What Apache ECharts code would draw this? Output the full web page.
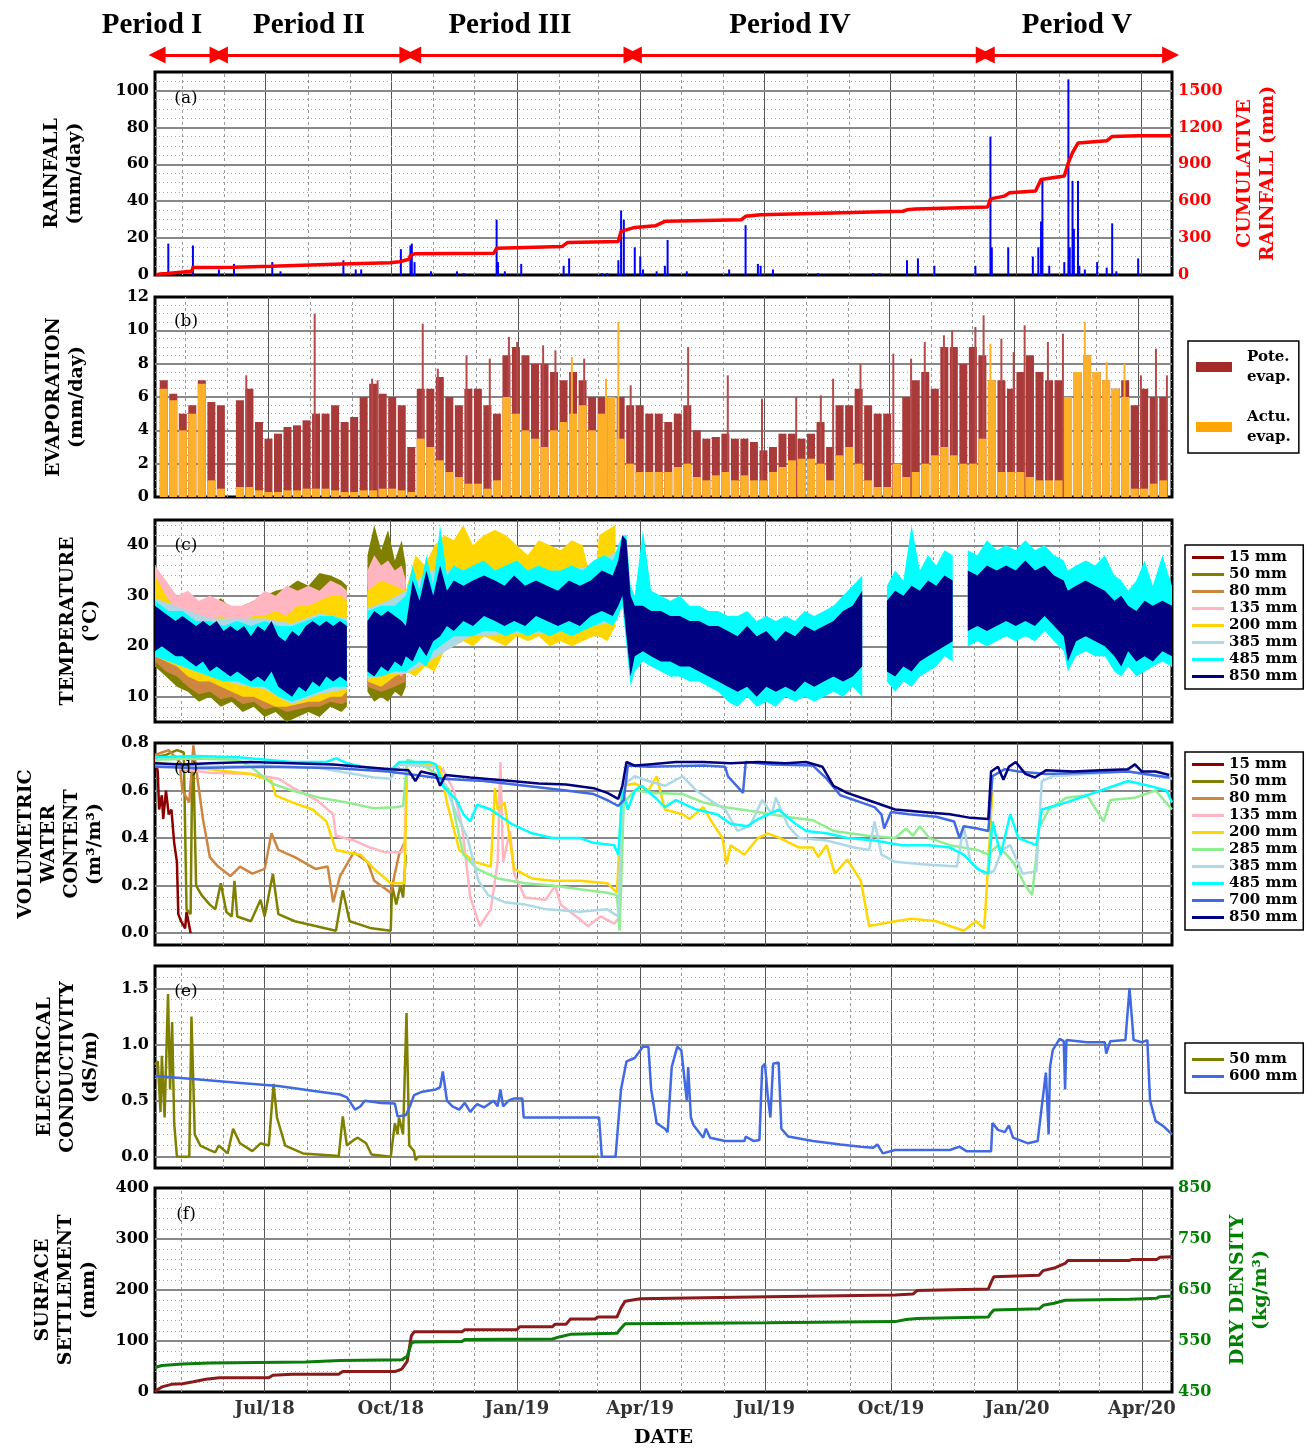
<!DOCTYPE html>
<html lang="en">
<head>
<meta charset="UTF-8">
<title>Field monitoring 2018-2020</title>
<script src="https://cdn.jsdelivr.net/npm/echarts@6/dist/echarts.min.js"></script>
<style>
    html, body { margin: 0; padding: 0; background: #fff; }
    #main { width: 1308px; height: 1449px; }
</style>
</head>
<body>
<div id="main"></div>
<script>
// ---------- time base: values below are [day since 2018-04-12, value] ----------
var DAY = 86400000;
var t0 = Date.UTC(2018, 3, 12);
var tEnd = Date.UTC(2020, 3, 23);
function day(d) { return t0 + d * DAY; }

// ---------- data ----------
var periodNames = ['Period I', 'Period II', 'Period III', 'Period IV', 'Period V'];
var periodSpans = [[1.5, 46], [47, 184.5], [188, 348], [349, 605], [606.5, 741]];

var quarterTicks = ['2018-07-01', '2018-10-01', '2019-01-01', '2019-04-01', '2019-07-01', '2019-10-01', '2020-01-01', '2020-04-01'];
var quarterLabels = ['Jul/18', 'Oct/18', 'Jan/19', 'Apr/19', 'Jul/19', 'Oct/19', 'Jan/20', 'Apr/20'];

// (a) rainfall
var rainDaily = [[9,17],[27,16],[46,3],[57,6],[85,7],[91,2],[137,8],[146,3],[150,3],[179,14],[186,16],[187,17],[189,7],[201,2],[220,2],[225,1],[249,30],[250,7],[255,2],[267,6],[298,5],[302,9],[326,1],[330,1],[338,8],[340,35],[342,30],[350,15],[354,10],[356,3],[366,2],[372,5],[374,19],[388,2],[419,3],[431,27],[440,6],[442,5],[451,3],[484,1],[524,1],[529,1],[549,8],[557,9],[569,5],[599,5],[610,75],[611,15],[623,15],[641,10],[645,15],[647,29],[648,51],[653,5],[664,7],[667,106],[668,15],[670,51],[671,25],[674,51],[675,5],[679,3],[688,7],[695,4],[699,28],[702,2],[718,9]];
var rainCum = [[0,0],[3,8],[8,12],[9,27],[26,30],[27,60],[56,63],[57,68],[84,72],[85,82],[136,90],[137,95],[171,100],[172,104],[178,108],[179,123],[185,128],[186,160],[189,172],[247,177],[249,218],[297,232],[298,237],[301,265],[338,273],[340,355],[350,387],[365,400],[372,436],[428,450],[431,477],[442,490],[546,518],[549,530],[555,537],[608,553],[610,619],[620,641],[624,668],[643,682],[647,777],[664,805],[667,914],[670,995],[674,1072],[695,1091],[699,1126],[718,1132],[742,1132]];

// (b) evaporation, weekly values (week k centred on day 7k+3.5)
var potEvap = [7.0,6.2,5.0,5.5,7.0,5.7,5.5,0,5.8,6.5,
    4.5,3.5,3.8,4.2,4.3,4.6,5.0,5.0,5.5,4.5,
    4.8,6.0,6.8,6.2,6.0,5.5,3.0,6.5,6.5,7.2,
    6.0,5.5,6.5,6.5,5.5,5.0,8.5,9.0,8.5,8.0,
    8.0,7.5,7.0,7.5,7.0,6.0,6.0,6.0,6.0,5.5,
    5.5,5.0,5.0,4.5,5.0,5.5,4.0,3.5,3.6,3.8,
    3.5,3.5,3.3,2.8,3.0,3.8,3.8,3.5,3.8,4.5,
    3.0,5.5,5.5,6.5,5.5,5.0,5.0,2.0,6.0,7.0,
    7.5,6.5,9.0,9.0,8.0,9.0,8.5,7.0,7.0,6.5,
    7.5,8.5,7.5,7.0,7.0,6.0,7.5,8.5,7.5,7.0,
    6.5,7.0,5.5,6.5,6.0,6.0];
var actEvap = [6.5,5.8,4.0,5.0,6.8,1.0,0.5,0,0.6,0.6,
    0.4,0.3,0.3,0.4,0.4,0.5,0.5,0.5,0.4,0.3,
    0.3,0.4,0.4,0.5,0.5,0.4,0.3,3.5,3.0,2.2,
    1.5,1.2,0.8,0.8,0.5,1.0,6.0,5.0,4.0,3.5,
    3.0,4.0,4.5,5.0,5.5,4.0,5.0,6.0,3.5,2.0,
    1.5,1.5,1.5,1.5,1.8,2.0,1.2,1.0,1.3,1.5,
    1.0,1.3,1.0,1.0,1.5,1.8,2.2,2.3,2.3,2.0,
    1.0,2.5,3.0,2.0,1.0,0.6,0.6,2.0,1.2,1.5,
    2.0,2.5,3.0,2.5,2.0,2.0,3.5,7.0,1.5,1.5,
    1.5,1.2,1.0,1.0,1.0,6.0,7.5,8.5,7.5,7.0,
    6.5,6.0,0.5,0.5,0.8,1.0];
// single days that stand above the weekly level
var potSpikes = [[66,7.3],[116,11.0],[158,7.1],[162,7.0],[195,10.4],[206,7.7],[227,8.5],[244,8.3],[258,9.6],[264,9.3],[283,9.1],[292,8.8],[313,8.3],[347,6.7],[389,9.0],[418,7.3],[443,5.9],[468,6.0],[486,6.1],[495,7.1],[515,8.0],[539,8.6],[552,8.3],[562,9.3],[576,9.7],[582,10.0],[599,10.2],[605,10.9],[618,9.5],[627,8.7],[635,10.3],[652,9.3],[663,9.8],[720,7.3],[731,8.9],[739,7.3]];
var actSpikes = [[304,8.4],[329,7.1],[338,10.5],[610,9.2],[679,10.5],[695,8.1],[708,8.0]];

// (c) temperature bands: [day, low, high]
var temp15 = [[0,17,28],[20,14,26],[40,12,25],[60,10,25],[80,9,26],[100,8,27],[120,9,28],[140,10,28],[147,null,null],[155,13,32],[170,12,33],[183,14,32]];
var temp50 = [[0,16,30],[8,14,29],[16,12,27],[24,11,28],[32,9,27],[40,10,28],[48,8,29.5],[56,9,27.5],[64,7,28],[72,8,29],[80,6,30],[88,7,31],[96,5,31.5],[104,6,33],[112,7,32],[120,6,34.5],[128,8,34],[136,7,33],[140,8,32],[147,null,null],[155,11,38],[160,9,44],[165,10,39],[170,9,43],[175,11,37],[180,10,41],[183,12,36]];
var temp80 = [[0,17,27],[8,15,26],[16,14,25],[24,12,25],[32,10.5,25],[40,11,25],[48,9.5,25],[56,10,24],[64,8.5,24],[72,9,25],[80,7.5,25],[88,8,26],[96,7,26],[104,7.5,27],[112,8,27],[120,8,28],[128,9,28],[136,8.5,28],[140,9,27],[147,null,null],[155,12,30],[165,11,31],[175,12,31],[183,13,30]];
var temp135 = [[0,19,36],[8,18,33],[16,17,30],[24,16,31],[32,15,29],[40,15,30],[48,14,29],[56,14,28],[64,13,28],[72,13,29],[80,12,31],[88,12,30],[96,11,32],[104,11,31],[112,12,32],[120,12,31],[128,13,33],[136,12,32],[140,13,31],[147,null,null],[155,14,35],[160,13,38],[165,14,36],[170,13,37],[175,15,35],[180,14,36],[183,16,33]];
var temp200 = [[0,18,34],[8,17,30],[16,16,27],[24,14,26],[32,13,26],[40,13,25],[48,12,26],[56,11,25],[64,10,25],[72,10,26],[80,9,26],[88,8,27],[96,8,26],[104,8.5,28],[112,9,28],[120,9,29],[128,10,30],[136,10,30],[140,11,29],[147,null,null],[155,13,31],[165,12,33],[175,14,32],[183,15,31],[190,14,38],[197,16,36],[204,15,40],[211,19,42],[218,20,41],[225,21,44],[232,20,40],[240,22,42],[248,21,43],[256,20,42],[264,22,40],[272,21,38],[280,22,41],[288,20,40],[296,21,39],[304,20,41],[312,21,40],[320,22,31],[324,22,42],[330,21,43],[336,24,44],[339,null,null]];
var temp385 = [[0,18,29.5],[20,16,27.5],[40,14,25.5],[60,12.5,25.5],[80,11.5,25.5],[100,8.5,24.5],[120,10.5,26.5],[140,11.5,25.5],[147,null,null],[155,13.5,27.5],[170,14.5,29],[183,14.5,31],[200,17,35],[230,22,35],[260,22.5,35],[290,22.5,34.5],[320,24,36],[338,25,39],[340,null,null]];
var temp485 = [[0,18,29],[10,17,27],[20,16,27],[30,15,25],[40,14,25],[50,13,24],[60,13,25],[70,12,24],[80,12,25],[90,10,24],[100,9,24],[110,10,25],[120,11,26],[130,12,26],[140,12,25],[147,null,null],[155,14,27],[165,14,28],[175,15,28],[183,15,30],[188,16,36],[193,17,31],[198,16,38],[203,19,32],[208,20,44],[213,21,34],[218,22,36],[225,22,35],[232,22,36],[240,23,37],[248,23,35],[256,22,36],[264,23,37],[272,22,35],[280,23,36],[288,22,35],[296,23,35],[304,22,36],[312,23,35],[320,24,37],[328,25,38],[334,24,37],[338,26,40],[341,28,42],[344,20,42],[347,12,32],[350,15,30],[356,17,43],[362,16,31],[369,15,30],[376,14,29],[383,14,30],[390,13,28],[397,13,28],[404,12,27],[411,11,27],[418,9,26],[425,8,26],[432,10,27],[439,8,25],[446,9,26],[453,8,25],[460,10,26],[467,9,25],[474,10,27],[481,9,26],[488,10,27],[495,11,28],[502,10,30],[509,12,32],[516,10,34],[518,null,null],[534,13,32],[540,11,35],[546,13,33],[552,12,44],[558,14,35],[564,15,38],[570,16,36],[576,18,39],[582,17,38],[585,null,null],[593,20,39],[600,21,38],[607,20,41],[614,21,39],[621,22,40],[628,21,39],[635,22,41],[642,21,39],[649,23,40],[656,21,38],[663,19,37],[666,15,35],[672,18,36],[679,19,37],[686,18,36],[693,18,38],[700,15,34],[705,14,33],[710,16,31],[716,14,33],[722,15,37],[728,16,32],[735,17,38],[742,16,32]];
var temp850 = [[0,19,28],[5,20,27],[10,19,26],[15,18,25],[20,18,26],[25,17,25],[30,16,24],[35,17,25],[40,15,24],[45,16,25],[50,15,23],[55,14,24],[60,15,23],[65,14,24],[70,13,22],[75,14,24],[80,13,23],[85,15,25],[90,12,22],[95,11,21],[100,10,23],[105,12,22],[110,11,24],[115,13,25],[120,12,24],[125,14,25],[130,13,24],[135,14,25],[140,13,24],[147,null,null],[155,15,25],[160,14,27],[165,16,26],[170,15,27],[175,17,26],[180,16,25],[183,18,24],[188,17,33],[193,20,29],[198,18,35],[203,21,30],[208,22,36],[213,24,31],[218,23,33],[225,25,32],[232,24,33],[240,26,34],[248,25,33],[255,24,32],[262,25,34],[270,24,32],[278,26,33],[286,25,32],[294,24,31],[302,25,33],[310,24,32],[318,26,33],[326,27,35],[334,26,34],[338,28,37],[341,30,42],[344,22,41],[347,14,30],[350,18,28],[356,19,28],[362,18,27],[369,17,27],[376,17,26],[383,16,26],[390,16,25],[397,15,25],[404,14,24],[411,13,24],[418,12,23],[425,11,22],[432,12,24],[439,10,22],[446,12,23],[453,11,21],[460,12,23],[467,11,22],[474,13,24],[481,12,23],[488,13,24],[495,14,25],[502,13,27],[509,14,28],[516,16,31],[518,null,null],[534,15,29],[540,14,31],[546,16,30],[552,15,32],[558,17,31],[564,18,33],[570,19,32],[576,20,34],[582,21,33],[585,null,null],[593,23,35],[600,24,34],[607,23,36],[614,24,35],[621,25,36],[628,24,35],[635,25,37],[642,24,35],[649,26,36],[656,24,34],[663,22,33],[666,17,31],[672,21,32],[679,22,33],[686,21,32],[693,20,31],[700,18,29],[705,16,30],[710,19,28],[716,17,27],[722,18,29],[728,17,28],[735,19,29],[742,18,28]];

// (d) volumetric water content
var vwc15 = [[0,0.74],[2,0.68],[3,0.52],[5,0.58],[6,0.48],[8,0.60],[10,0.50],[12,0.52],[14,0.38],[16,0.30],[17,0.08],[19,0.05],[22,0.02],[23,0.09],[25,0.03],[26,0.0]];
var vwc50 = [[0,0.74],[8,0.75],[16,0.77],[21,0.76],[23,0.10],[26,0.08],[27,0.62],[28,0.72],[30,0.20],[34,0.16],[40,0.12],[44,0.10],[48,0.21],[52,0.09],[56,0.07],[58,0.22],[60,0.07],[70,0.05],[77,0.14],[80,0.07],[86,0.25],[90,0.08],[102,0.05],[117,0.03],[132,0.01],[137,0.18],[142,0.05],[158,0.02],[172,0.01],[173,0.20],[176,0.12],[179,0.20],[181,0.15],[183,0.33]];
var vwc80 = [[0,0.75],[5,0.76],[10,0.77],[18,0.72],[20,0.60],[25,0.55],[28,0.79],[31,0.65],[35,0.48],[40,0.32],[46,0.28],[55,0.24],[62,0.28],[71,0.25],[80,0.27],[85,0.42],[90,0.35],[102,0.32],[117,0.27],[126,0.28],[130,0.13],[135,0.24],[145,0.34],[155,0.30],[160,0.22],[172,0.17],[178,0.33],[182,0.38]];
var vwc135 = [[0,0.72],[20,0.69],[40,0.675],[70,0.67],[90,0.65],[101,0.61],[118,0.56],[130,0.50],[132,0.41],[145,0.39],[157,0.36],[168,0.34],[180,0.34],[182,0.37],[184,0.72],[200,0.70],[210,0.69],[218,0.60],[224,0.45],[230,0.15],[237,0.03],[245,0.10],[250,0.30],[252,0.72],[254,0.30],[259,0.43],[262,0.25],[270,0.15],[285,0.14],[292,0.20],[296,0.12],[305,0.08],[316,0.03],[325,0.07],[335,0.04],[338,0.06]];
var vwc200 = [[0,0.72],[20,0.70],[40,0.69],[70,0.67],[85,0.64],[88,0.58],[100,0.55],[115,0.52],[125,0.47],[132,0.35],[140,0.34],[150,0.33],[160,0.27],[172,0.21],[182,0.21],[184,0.72],[200,0.71],[208,0.70],[213,0.55],[222,0.35],[233,0.30],[245,0.28],[248,0.61],[250,0.52],[255,0.55],[262,0.27],[275,0.23],[290,0.22],[310,0.22],[330,0.21],[337,0.17],[341,0.62],[350,0.63],[360,0.60],[366,0.66],[372,0.52],[385,0.50],[390,0.48],[400,0.53],[406,0.47],[414,0.40],[417,0.29],[420,0.37],[430,0.33],[440,0.40],[447,0.42],[456,0.40],[470,0.36],[480,0.36],[484,0.32],[490,0.37],[496,0.25],[505,0.31],[515,0.22],[521,0.03],[540,0.05],[552,0.06],[570,0.05],[590,0.01],[599,0.05],[605,0.02],[608,0.30],[611,0.60]];
var vwc285 = [[0,0.73],[30,0.735],[60,0.73],[70,0.70],[85,0.63],[100,0.60],[120,0.57],[140,0.55],[160,0.525],[175,0.53],[181,0.535],[184,0.73],[195,0.71],[205,0.67],[215,0.60],[220,0.46],[225,0.33],[235,0.27],[250,0.23],[270,0.21],[290,0.20],[310,0.185],[330,0.17],[337,0.16],[339,0.01],[342,0.55],[350,0.60],[365,0.59],[385,0.585],[400,0.55],[416,0.53],[440,0.51],[460,0.49],[480,0.475],[495,0.43],[520,0.41],[540,0.40],[548,0.44],[553,0.41],[558,0.45],[565,0.40],[580,0.37],[600,0.35],[608,0.33],[615,0.37],[626,0.30],[635,0.20],[640,0.16],[645,0.44],[652,0.52],[665,0.57],[680,0.58],[692,0.47],[697,0.56],[715,0.57],[730,0.60],[742,0.52]];
var vwc385 = [[0,0.71],[40,0.70],[80,0.705],[120,0.695],[140,0.675],[160,0.655],[172,0.65],[178,0.71],[205,0.70],[212,0.62],[220,0.50],[228,0.40],[236,0.22],[243,0.16],[255,0.13],[270,0.12],[286,0.10],[310,0.09],[330,0.10],[338,0.07],[341,0.62],[350,0.66],[360,0.64],[372,0.62],[385,0.66],[395,0.60],[405,0.56],[416,0.52],[425,0.43],[434,0.45],[443,0.56],[450,0.50],[453,0.57],[462,0.45],[470,0.40],[490,0.39],[510,0.36],[521,0.35],[525,0.47],[530,0.33],[540,0.30],[560,0.29],[585,0.28],[590,0.45],[595,0.30],[605,0.25],[612,0.26],[618,0.35],[624,0.37],[633,0.25],[643,0.26],[647,0.64],[655,0.66],[680,0.67],[710,0.68],[742,0.65]];
var vwc485 = [[0,0.74],[30,0.745],[60,0.74],[100,0.72],[125,0.72],[132,0.735],[140,0.715],[160,0.69],[172,0.685],[178,0.72],[200,0.72],[205,0.71],[210,0.62],[220,0.56],[225,0.50],[230,0.47],[235,0.54],[245,0.52],[260,0.46],[275,0.42],[290,0.40],[310,0.40],[320,0.38],[335,0.37],[338,0.33],[341,0.60],[345,0.52],[350,0.60],[355,0.62],[365,0.57],[372,0.53],[380,0.56],[395,0.52],[410,0.50],[420,0.46],[432,0.45],[440,0.48],[455,0.52],[465,0.47],[475,0.43],[490,0.42],[505,0.40],[525,0.39],[545,0.37],[565,0.37],[580,0.36],[590,0.33],[600,0.27],[608,0.25],[611,0.47],[617,0.33],[624,0.50],[630,0.40],[643,0.37],[647,0.52],[665,0.55],[690,0.60],[710,0.64],[725,0.62],[738,0.60],[742,0.55]];
var vwc700 = [[0,0.70],[30,0.695],[80,0.70],[130,0.695],[170,0.68],[190,0.665],[210,0.65],[240,0.64],[270,0.62],[300,0.60],[320,0.585],[330,0.56],[338,0.535],[342,0.56],[345,0.705],[360,0.70],[400,0.705],[416,0.70],[418,0.66],[429,0.59],[431,0.72],[450,0.71],[480,0.705],[490,0.65],[500,0.58],[515,0.55],[525,0.53],[530,0.50],[532,0.44],[537,0.51],[550,0.50],[570,0.49],[583,0.47],[587,0.40],[590,0.45],[600,0.44],[608,0.43],[611,0.66],[620,0.69],[630,0.68],[650,0.67],[680,0.675],[710,0.68],[740,0.655]];
var vwc850 = [[0,0.715],[20,0.71],[40,0.715],[70,0.72],[100,0.715],[130,0.71],[150,0.70],[172,0.69],[185,0.685],[190,0.64],[194,0.68],[205,0.665],[208,0.62],[212,0.665],[230,0.655],[260,0.64],[280,0.63],[300,0.625],[320,0.61],[330,0.59],[338,0.565],[341,0.62],[344,0.72],[350,0.705],[360,0.71],[380,0.72],[400,0.72],[420,0.715],[440,0.72],[460,0.715],[475,0.72],[487,0.70],[495,0.62],[505,0.59],[520,0.56],[540,0.52],[560,0.51],[580,0.50],[595,0.485],[608,0.48],[610,0.68],[615,0.70],[619,0.645],[623,0.70],[628,0.72],[635,0.67],[642,0.655],[650,0.685],[670,0.68],[690,0.685],[710,0.69],[715,0.71],[720,0.68],[730,0.68],[740,0.665]];

// (e) electrical conductivity
var ec50 = [[0,0.82],[2,0.85],[4,0.40],[5,0.90],[7,0.35],[9.5,1.45],[11,0.60],[12.5,1.2],[14,0.30],[16,0.0],[25,0.0],[26.6,1.25],[29,0.20],[33,0.10],[40,0.06],[44,0.04],[46.5,0.10],[53,0.03],[57,0.25],[62,0.12],[71,0.05],[77,0.12],[83,0.10],[86.5,0.65],[89,0.35],[95,0.10],[108,0.03],[132,0.01],[134,0.0],[137,0.36],[140,0.10],[145,0.15],[148,0.17],[154,0.12],[158,0.02],[172,0.0],[175,0.30],[177,0.20],[178,0.35],[181,0.20],[183.5,1.28],[185.5,0.10],[189,0.05],[190,-0.03],[192,0.0],[324,0.0]];
var ec600 = [[0,0.72],[30,0.69],[60,0.66],[90,0.63],[120,0.58],[135,0.555],[140,0.53],[146,0.42],[150,0.45],[153,0.50],[165,0.48],[175,0.475],[177,0.36],[183,0.37],[186,0.45],[189,0.55],[195,0.58],[205,0.60],[208,0.62],[210,0.76],[213,0.50],[217,0.45],[222,0.42],[226,0.48],[230,0.40],[235,0.47],[240,0.44],[247,0.50],[250,0.45],[252,0.60],[254,0.45],[258,0.50],[262,0.52],[268,0.52],[269,0.35],[300,0.35],[324,0.35],[326,0.0],[336,0.0],[340,0.6],[344,0.85],[350,0.88],[356,0.98],[360,0.98],[362,0.6],[366,0.30],[372,0.25],[374,0.22],[377,0.8],[381,0.98],[384,0.95],[388,0.5],[389,0.8],[391,0.35],[393,0.28],[398,0.2],[400,0.17],[402,0.25],[405,0.17],[416,0.14],[430,0.14],[431,0.18],[437,0.14],[441,0.15],[443,0.8],[445,0.83],[447,0.55],[449,0.35],[451,0.83],[455,0.84],[457,0.25],[462,0.18],[480,0.14],[500,0.11],[515,0.09],[524,0.08],[527,0.11],[531,0.03],[540,0.06],[580,0.06],[587,0.09],[592,0.05],[610,0.05],[611,0.30],[615,0.24],[620,0.22],[623,0.28],[626,0.17],[637,0.12],[644,0.14],[647,0.45],[650,0.75],[652,0.2],[653,0.8],[655,0.95],[660,1.05],[663,1.03],[664,0.6],[665,1.04],[680,1.02],[693,1.02],[694,0.92],[697,1.03],[708,1.04],[711,1.5],[714,1.04],[720,1.02],[724,1.04],[726,0.5],[730,0.32],[736,0.27],[742,0.2]];

// (f) settlement (mm) and dry density (kg/m3)
var settlement = [[0,0],[2,5],[5,10],[12,15],[20,16],[28,20],[37,25],[47,28],[83,28],[86,33],[100,35],[134,35],[137,40],[175,40],[180,45],[184,60],[187,110],[189,118],[224,118],[226,122],[264,122],[266,128],[290,128],[292,133],[300,133],[303,143],[321,143],[323,147],[337,147],[340,165],[343,178],[354,183],[447,187],[540,190],[553,192],[556,199],[608,202],[610,215],[612,226],[645,229],[648,238],[656,243],[664,252],[666,258],[711,258],[713,260],[731,260],[733,264],[742,265]];
var dryDensity = [[0,498],[5,502],[20,505],[40,507],[110,509],[135,512],[180,513],[184,520],[187,545],[189,548],[224,549],[226,553],[290,554],[295,558],[303,563],[337,565],[340,575],[343,584],[447,586],[540,588],[548,592],[556,594],[608,597],[610,605],[612,611],[645,613],[648,620],[656,624],[664,630],[711,632],[731,634],[733,637],[742,638]];

// ---------- chart ----------
var chart = echarts.init(document.getElementById('main'));
var SERIF = 'DejaVu Serif';
var C = {
    d15: '#8b0000', d50: '#808000', d80: '#cd853f', d135: '#ffb6c1', d200: '#ffd700',
    d285: '#90ee90', d385: '#add8e6', d485: '#00ffff', d700: '#4169e1', d850: '#000080'
};

function pts(arr) {
    return arr.map(function (p) { return [day(p[0]), p[1]]; });
}

// label filter: show only multiples of "major" up to "lim"
function majorOnly(major, lim, digits) {
    return function (v) {
        var r = v / major;
        if (Math.abs(r - Math.round(r)) > 1e-6 || v > lim + 1e-9 || v < -1e-9) return '';
        return digits ? v.toFixed(digits) : String(Math.round(v));
    };
}

var quarterTs = quarterTicks.map(function (s) { return Date.parse(s + 'T00:00:00Z'); });

var grids = [{left: 155, width: 1017, top: 45, height: 20, show: false}];
[[72, 203], [297, 200], [520, 202], [743, 202], [966, 202], [1188, 204]].forEach(function (g) {
    grids.push({left: 155, width: 1017, top: g[0], height: g[1], show: true,
        borderColor: '#000', borderWidth: 3, backgroundColor: 'transparent'});
});
// row holding the date labels under the last panel
grids.push({left: 155, width: 1017, top: 1398, height: 24, show: false});

var xAxes = [];
for (var gi = 0; gi <= 7; gi++) {
    xAxes.push({type: 'time', gridIndex: gi, min: t0, max: tEnd,
        axisLine: {show: false}, axisTick: {show: false}, splitLine: {show: false}, axisLabel: {show: false}});
}
xAxes[7].name = 'DATE';
xAxes[7].nameLocation = 'middle';
xAxes[7].nameGap = 9;
xAxes[7].nameTextStyle = {fontFamily: SERIF, fontWeight: 'bold', fontSize: 19, color: '#000'};
// extra hidden axis (index 8) for the evaporation spikes
xAxes.push({type: 'time', gridIndex: 2, min: t0, max: tEnd, show: false});

function yAx(g, min, max, step, fmt, name, gap, pos, color) {
    return {type: 'value', gridIndex: g, min: min, max: max, interval: step, position: pos || 'left',
        axisLine: {show: false}, axisTick: {show: false}, splitLine: {show: false},
        axisLabel: {formatter: fmt, color: color || '#000', fontFamily: SERIF, fontWeight: 'bold', fontSize: 16, margin: 6},
        name: name, nameLocation: 'middle', nameRotate: 90, nameGap: gap,
        nameTextStyle: {fontFamily: SERIF, fontWeight: 'bold', fontSize: 19, lineHeight: 23, color: color || '#000', align: 'center'}};
}

var yAxes = [
    {type: 'value', gridIndex: 0, min: 0, max: 1, show: false},
    yAx(1, 0, 110, 10, majorOnly(20, 100), 'RAINFALL\n(mm/day)', 68),
    yAx(1, 0, 1650, 150, majorOnly(300, 1500), 'CUMULATIVE\nRAINFALL (mm)', 55, 'right', '#ff0000'),
    yAx(2, 0, 12, 2, majorOnly(2, 12), 'EVAPORATION\n(mm/day)', 66),
    yAx(3, 5, 45, 5, majorOnly(10, 40), 'TEMPERATURE\n(°C)', 52),
    yAx(4, -0.05, 0.8, 0.05, majorOnly(0.2, 0.8, 1), 'VOLUMETRIC\nWATER\nCONTENT\n(m³/m³)', 48),
    yAx(5, -0.1, 1.7, 0.1, majorOnly(0.5, 1.5, 1), 'ELECTRICAL\nCONDUCTIVITY\n(dS/m)', 52),
    yAx(6, 0, 400, 100, majorOnly(100, 400), 'SURFACE\nSETTLEMENT\n(mm)', 54),
    yAx(6, 450, 850, 100, function (v) { return String(v); }, 'DRY DENSITY\n(kg/m³)', 55, 'right', '#008000'),
    {type: 'value', gridIndex: 7, min: 0, max: 1, show: false}
];

// background grid lines for one panel
function gridSeries(xi, yi, yMin, yMax, major, minor) {
    var solidV = {color: '#555', width: 1, type: 'solid'};
    var dashV = {color: '#999', width: 1, type: [3, 3]};
    var solidH = {color: '#888', width: 2, type: 'solid'};
    var dotH = {color: '#aaa', width: 1, type: [1, 3]};
    var lines = [];
    for (var k = 0; k < 24; k++) {
        var yy = 2018 + Math.floor((4 + k) / 12), mm = (4 + k) % 12;
        lines.push({xAxis: Date.UTC(yy, mm, 1), lineStyle: mm % 3 === 0 ? solidV : dashV});
    }
    var n0 = Math.ceil(yMin / minor - 1e-9), n1 = Math.floor(yMax / minor + 1e-9);
    for (var n = n0; n <= n1; n++) {
        var v = +(n * minor).toFixed(6);
        if (v <= yMin + 1e-9 || v >= yMax - 1e-9) continue;
        var r = v / major;
        lines.push({yAxis: v, lineStyle: Math.abs(r - Math.round(r)) < 1e-6 ? solidH : dotH});
    }
    return {type: 'line', xAxisIndex: xi, yAxisIndex: yi, data: [], z: 1, silent: true,
        markLine: {silent: true, symbol: ['none', 'none'], label: {show: false}, animation: false, z: 1, data: lines}};
}

function bandSeries(name, arr, color) {
    var lo = [], span = [];
    arr.forEach(function (p) {
        var t = day(p[0]);
        lo.push([t, p[1]]);
        span.push([t, p[1] == null ? null : p[2] - p[1]]);
    });
    return [
        {type: 'line', name: 'low ' + name, xAxisIndex: 3, yAxisIndex: 4, stack: 'T' + name, data: lo,
            symbol: 'none', lineStyle: {opacity: 0}, silent: true, z: 2},
        {type: 'line', name: name, xAxisIndex: 3, yAxisIndex: 4, stack: 'T' + name, data: span,
            symbol: 'none', lineStyle: {opacity: 0}, itemStyle: {color: color},
            areaStyle: {color: color, opacity: 1}, silent: true, z: 2}
    ];
}

function lineSeries(name, arr, color, xi, yi, w) {
    return {type: 'line', name: name, xAxisIndex: xi, yAxisIndex: yi, data: pts(arr), symbol: 'none',
        lineStyle: {color: color, width: w}, itemStyle: {color: color}, silent: true, z: 3};
}

var series = [
    gridSeries(1, 1, 0, 110, 20, 5),
    gridSeries(2, 3, 0, 12, 2, 0.5),
    gridSeries(3, 4, 5, 45, 10, 2),
    gridSeries(4, 5, -0.05, 0.8, 0.2, 0.05),
    gridSeries(5, 6, -0.1, 1.7, 0.5, 0.1),
    gridSeries(6, 7, 0, 400, 100, 20),
    // period arrows
    {type: 'line', xAxisIndex: 0, yAxisIndex: 0, data: [], silent: true,
        markLine: {silent: true, symbol: ['triangle', 'triangle'], symbolSize: 17, label: {show: false}, animation: false,
            lineStyle: {color: '#ff0000', width: 3, type: 'solid'},
            data: periodSpans.map(function (s) { return [{coord: [day(s[0]), 0.5]}, {coord: [day(s[1]), 0.5]}]; })}},
    // date labels
    {type: 'scatter', xAxisIndex: 7, yAxisIndex: 9, symbolSize: 1, silent: true,
        itemStyle: {color: 'rgba(0,0,0,0)'},
        label: {show: true, position: 'inside', formatter: '{b}', color: '#000',
            fontFamily: SERIF, fontWeight: 'bold', fontSize: 18},
        data: quarterTs.map(function (t, i) { return {name: quarterLabels[i], value: [t, 0.5]}; })},
    // (a)
    {type: 'bar', name: 'Rainfall', xAxisIndex: 1, yAxisIndex: 1, data: pts(rainDaily), barWidth: 2,
        itemStyle: {color: '#0000ff'}, silent: true, z: 2},
    lineSeries('Cumulative rainfall', rainCum, '#ff0000', 1, 2, 3.5),
    // (b)
    {type: 'bar', name: 'Pote. evap.', xAxisIndex: 2, yAxisIndex: 3, barWidth: 8, barGap: '-100%',
        data: potEvap.map(function (v, k) { return [day(7 * k + 3.5), v]; }),
        itemStyle: {color: '#a93a3a'}, silent: true, z: 2},
    {type: 'bar', name: 'pot spikes', xAxisIndex: 8, yAxisIndex: 3, barWidth: 2, barGap: '-100%',
        data: pts(potSpikes), itemStyle: {color: '#b44a4a'}, silent: true, z: 2},
    {type: 'bar', name: 'Actu. evap.', xAxisIndex: 2, yAxisIndex: 3, barWidth: 8, barGap: '-100%',
        data: actEvap.map(function (v, k) { return [day(7 * k + 3.5), v]; }),
        itemStyle: {color: '#fdb12a'}, silent: true, z: 3},
    {type: 'bar', name: 'act spikes', xAxisIndex: 8, yAxisIndex: 3, barWidth: 2, barGap: '-100%',
        data: pts(actSpikes), itemStyle: {color: '#fdb12a'}, silent: true, z: 3}
];

// (c)
[['15 mm', temp15, C.d15], ['50 mm', temp50, C.d50], ['80 mm', temp80, C.d80], ['135 mm', temp135, C.d135],
    ['200 mm', temp200, C.d200], ['385 mm', temp385, C.d385], ['485 mm', temp485, C.d485], ['850 mm', temp850, C.d850]]
    .forEach(function (b) { series = series.concat(bandSeries(b[0], b[1], b[2])); });

// (d)
[['15 mm', vwc15, C.d15], ['50 mm', vwc50, C.d50], ['80 mm', vwc80, C.d80], ['135 mm', vwc135, C.d135],
    ['200 mm', vwc200, C.d200], ['285 mm', vwc285, C.d285], ['385 mm', vwc385, C.d385], ['485 mm', vwc485, C.d485],
    ['700 mm', vwc700, C.d700], ['850 mm', vwc850, C.d850]]
    .forEach(function (l) { series.push(lineSeries(l[0], l[1], l[2], 4, 5, 2.5)); });

// (e)
series.push(lineSeries('50 mm', ec50, C.d50, 5, 6, 2.5));
series.push(lineSeries('600 mm', ec600, C.d700, 5, 6, 2.5));

// (f)
series.push(lineSeries('Settlement', settlement, '#8b1a1a', 6, 7, 3));
series.push(lineSeries('Dry density', dryDensity, '#0b7d0b', 6, 8, 3));

function legendBox(left, top, names, colors, extra) {
    var lg = {left: left, top: top, orient: 'vertical', selectedMode: false, icon: 'rect',
        itemWidth: 32, itemHeight: 3, itemGap: 0, padding: [4, 6, 4, 7],
        borderColor: '#000', borderWidth: 1.5, backgroundColor: '#fff',
        textStyle: {fontFamily: SERIF, fontWeight: 'bold', fontSize: 15, lineHeight: 17, color: '#000'},
        data: names.map(function (n, i) { return {name: n, itemStyle: {color: colors[i], borderWidth: 0, opacity: 1}}; })};
    for (var k in extra) lg[k] = extra[k];
    return lg;
}

var legends = [
    legendBox(1188, 341, ['Pote. evap.', 'Actu. evap.'], ['#a52a2a', '#ffa500'], {
        itemWidth: 36, itemHeight: 10, itemGap: 20, padding: [6, 8, 6, 8],
        formatter: function (n) { return n.replace(' ', '\n'); },
        textStyle: {fontFamily: SERIF, fontWeight: 'bold', fontSize: 15, lineHeight: 20, color: '#000', padding: [0, 0, 0, 10]}
    }),
    legendBox(1185, 545, ['15 mm', '50 mm', '80 mm', '135 mm', '200 mm', '385 mm', '485 mm', '850 mm'],
        [C.d15, C.d50, C.d80, C.d135, C.d200, C.d385, C.d485, C.d850]),
    legendBox(1185, 752, ['15 mm', '50 mm', '80 mm', '135 mm', '200 mm', '285 mm', '385 mm', '485 mm', '700 mm', '850 mm'],
        [C.d15, C.d50, C.d80, C.d135, C.d200, C.d285, C.d385, C.d485, C.d700, C.d850]),
    legendBox(1185, 1043, ['50 mm', '600 mm'], [C.d50, C.d700], {padding: [8, 6, 8, 7]})
];

var periodLabelX = [152, 309, 510, 790, 1077];
var panelTags = [['(a)', 99], ['(b)', 322], ['(c)', 546], ['(d)', 769], ['(e)', 992], ['(f)', 1215]];
var graphics = periodNames.map(function (n, i) {
    return {type: 'text', x: periodLabelX[i], y: 26, silent: true,
        style: {text: n, font: 'bold 29px "Liberation Serif"', fill: '#000', align: 'center', verticalAlign: 'middle',
            textAlign: 'center', textVerticalAlign: 'middle'}};
}).concat(panelTags.map(function (p) {
    return {type: 'text', x: 186, y: p[1], silent: true, z: 100,
        style: {text: p[0], font: '17px "DejaVu Serif"', fill: '#000', align: 'center', verticalAlign: 'middle',
            textAlign: 'center', textVerticalAlign: 'middle'}};
}));

chart.setOption({
    animation: false,
    backgroundColor: '#fff',
    grid: grids,
    xAxis: xAxes,
    yAxis: yAxes,
    legend: legends,
    graphic: graphics,
    series: series
});
</script>
</body>
</html>
